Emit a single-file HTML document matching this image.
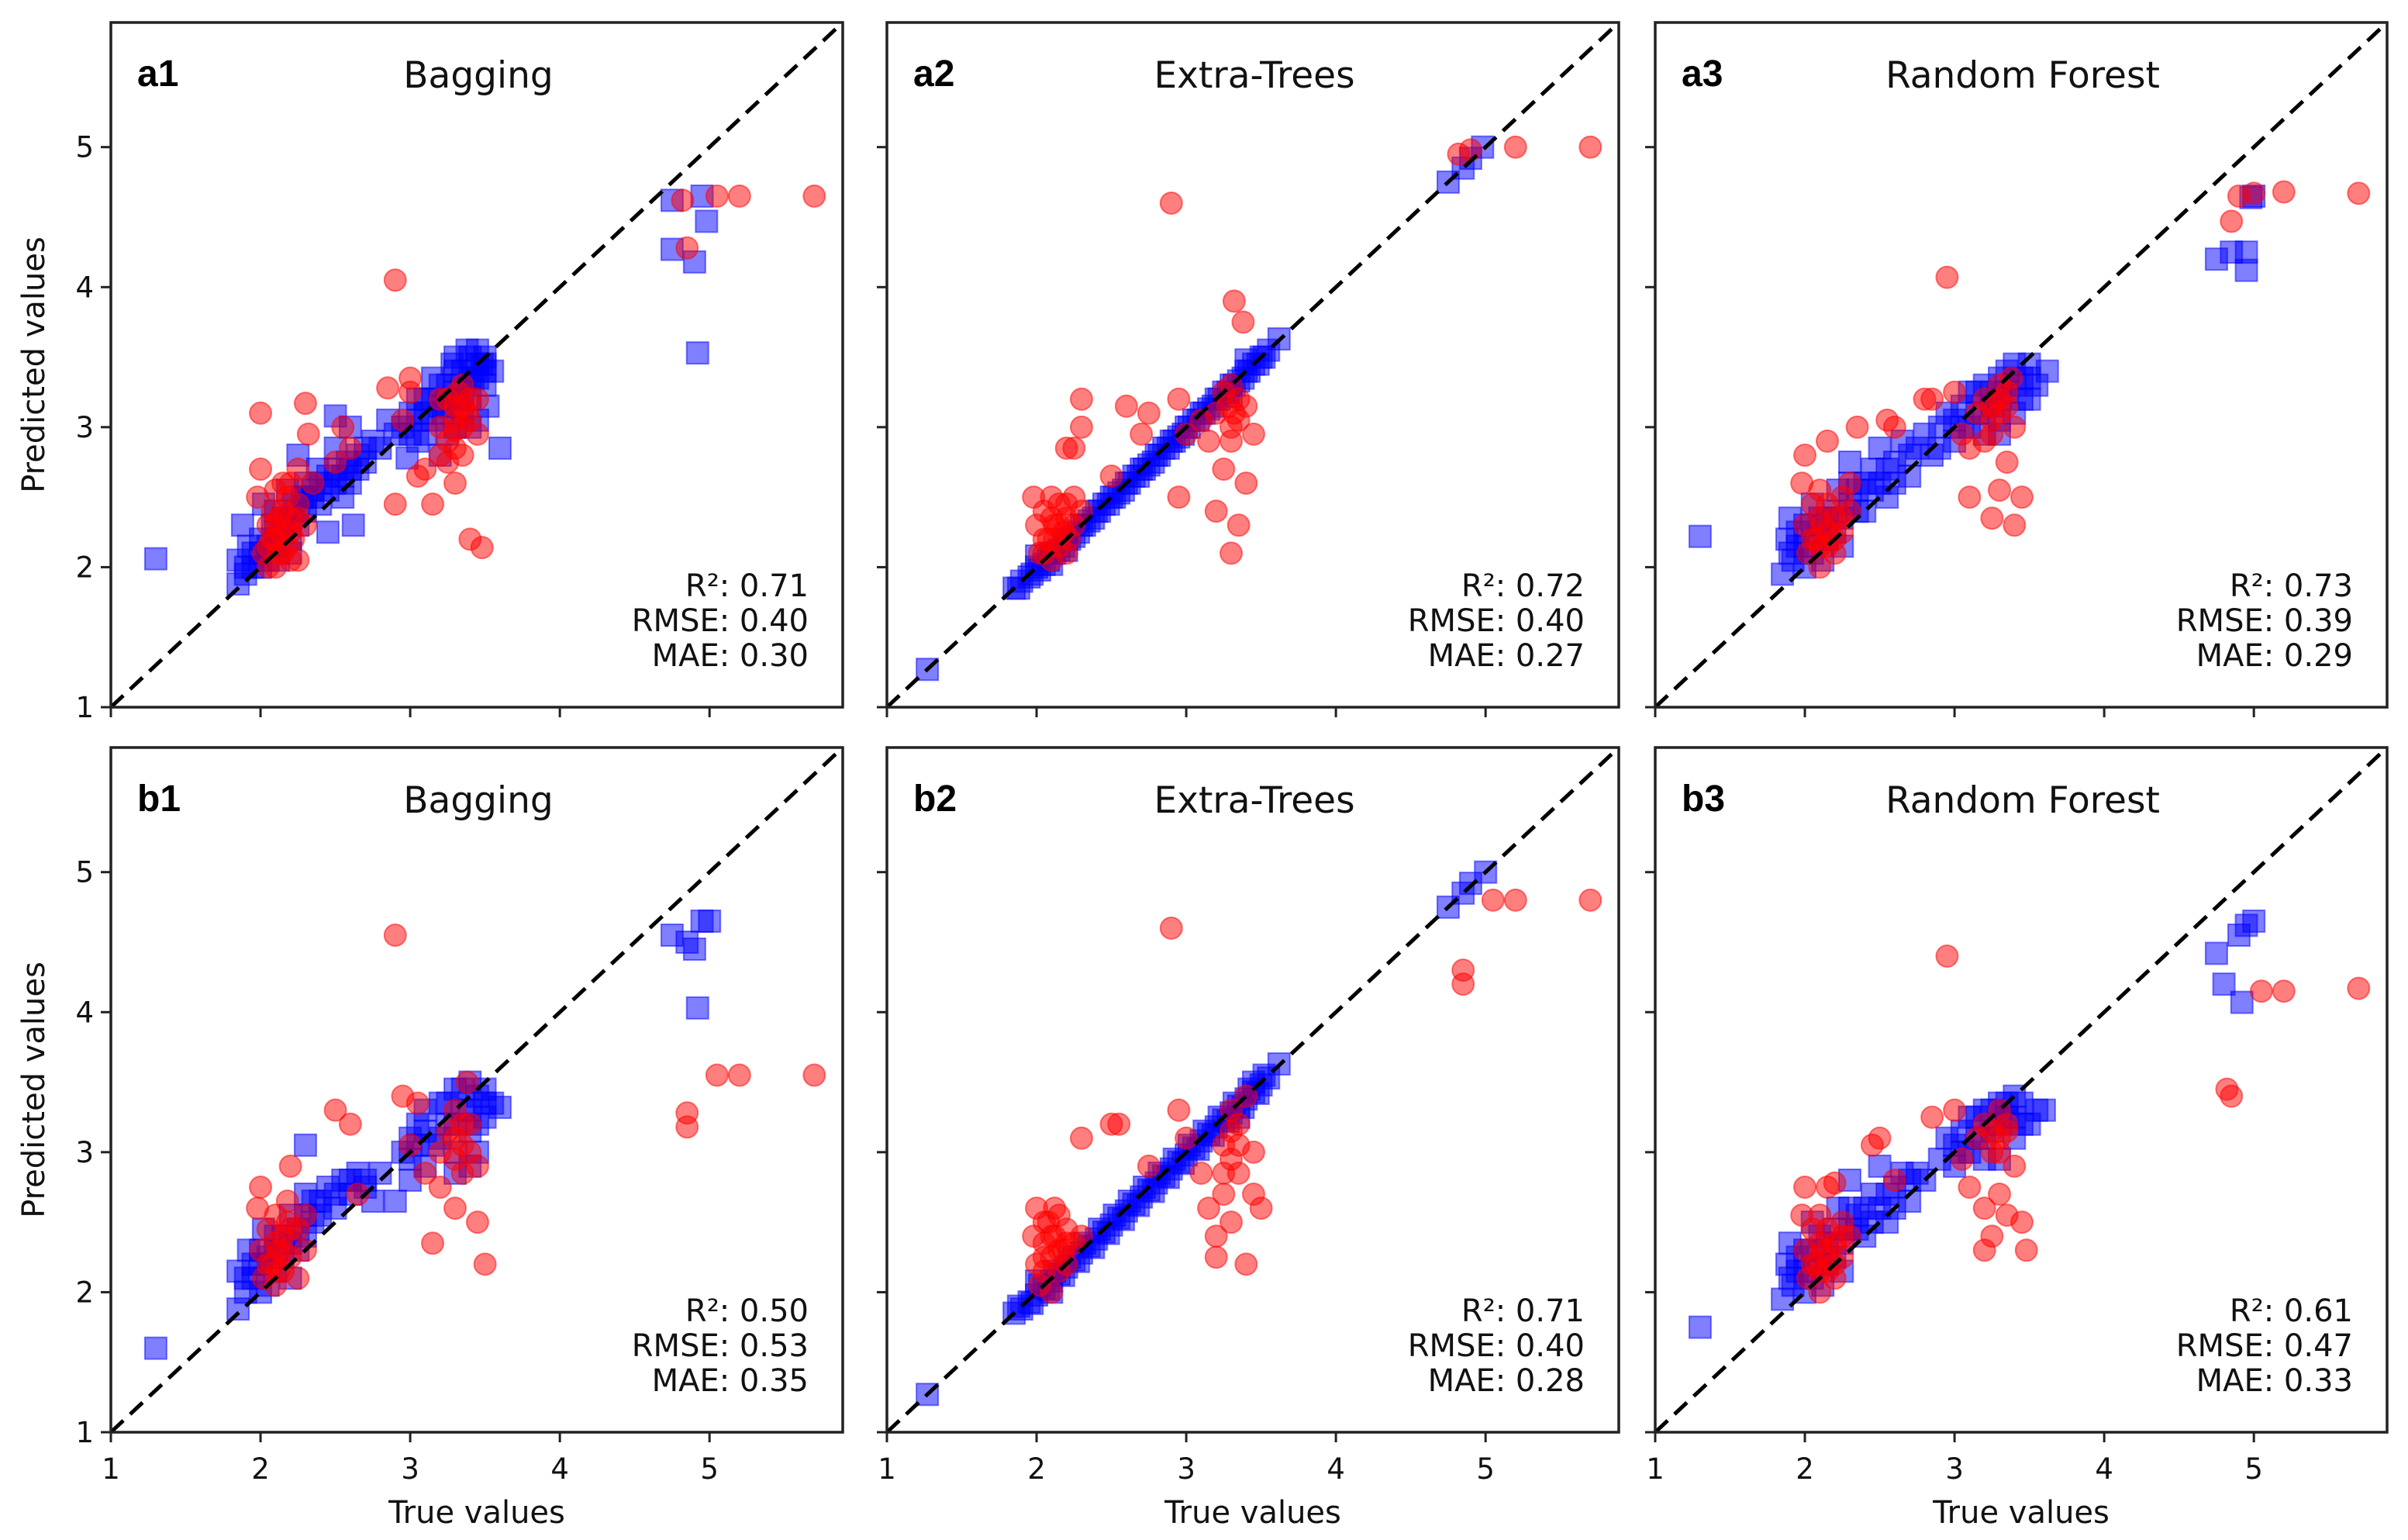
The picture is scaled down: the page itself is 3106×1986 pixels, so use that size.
<!DOCTYPE html>
<html><head><meta charset="utf-8"><style>
html,body{margin:0;padding:0;background:#fff;}
svg{display:block;}
</style></head><body>
<svg id="fig" width="3106" height="1986" viewBox="0 0 3106 1986" xmlns="http://www.w3.org/2000/svg"></svg>
<script>
const panelIds = ["a1","a2","a3","b1","b2","b3"];
const panelTitles = ["Bagging","Extra-Trees","Random Forest","Bagging","Extra-Trees","Random Forest"];
const r2Values = ["0.71","0.72","0.73","0.50","0.71","0.61"];
const rmseValues = ["0.40","0.40","0.39","0.53","0.40","0.47"];
const maeValues = ["0.30","0.27","0.29","0.35","0.28","0.33"];
const tickValues = [1,2,3,4,5];

const blueA1 = [[1.3,2.06],[1.85,1.88],[1.85,2.05],[1.88,2.3],[1.9,2.0],[1.92,2.15],[1.95,2.1],[2.0,2.0],[2.0,2.2],[2.02,2.45],[2.05,2.05],[2.08,2.3],[2.1,2.15],[2.1,2.4],[2.15,2.25],[2.18,2.55],[2.2,2.1],[2.2,2.35],[2.25,2.3],[2.25,2.8],[2.28,2.5],[2.3,2.4],[2.3,2.6],[2.35,2.5],[2.38,2.7],[2.4,2.45],[2.45,2.25],[2.45,2.65],[2.5,2.6],[2.5,2.85],[2.5,3.08],[2.55,2.5],[2.58,2.75],[2.6,2.7],[2.6,3.0],[2.62,2.3],[2.65,2.8],[2.7,2.75],[2.75,2.9],[2.8,2.85],[2.85,3.05],[2.9,2.95],[2.95,3.0],[2.98,2.78],[3.0,3.1],[3.05,2.9],[3.05,3.2],[3.1,3.2],[3.1,2.95],[3.15,3.05],[3.15,3.35],[3.2,3.3],[3.2,2.8],[3.22,3.1],[3.25,3.15],[3.28,3.45],[3.3,3.4],[3.3,3.0],[3.32,3.2],[3.35,3.25],[3.38,3.55],[3.4,3.5],[3.4,3.2],[3.42,3.35],[3.45,3.35],[3.45,3.05],[3.48,3.45],[3.5,3.45],[3.5,3.3],[3.52,3.15],[3.55,3.4],[3.6,2.85],[3.45,3.55],[4.75,4.62],[4.95,4.65],[4.75,4.27],[4.9,4.18],[4.92,3.53],[4.98,4.47],
[1.9,1.95],[1.95,2.0],[2.0,2.1],[2.05,2.15],[2.1,2.25],[2.12,2.05],[2.15,2.35],[2.2,2.2],[2.22,2.45],[2.25,2.4],[2.3,2.5],[2.35,2.55],[2.4,2.6],[2.45,2.55],[2.5,2.7],[2.55,2.65],[2.6,2.6],[2.65,2.7],[2.7,2.85],[3.0,2.95],[3.05,3.05],[3.1,3.1],[3.15,3.2],[3.2,3.15],[3.25,3.3],[3.3,3.25],[3.35,3.4],[3.4,3.35],[3.45,3.45],[3.5,3.4],[3.35,3.1],[3.4,3.0],[3.25,2.95],[3.5,3.5],[3.3,3.5]];
const redA1 = [[2.0,3.1],[2.0,2.7],[1.98,2.5],[2.02,2.1],[2.05,2.3],[2.05,2.0],[2.08,2.2],[2.1,2.2],[2.1,2.0],[2.12,2.35],[2.15,2.4],[2.15,2.1],[2.18,2.5],[2.2,2.25],[2.2,2.6],[2.2,2.05],[2.25,2.05],[2.25,2.45],[2.25,2.7],[2.3,2.3],[2.3,3.17],[2.32,2.95],[2.35,2.6],[2.5,2.75],[2.55,3.0],[2.6,2.85],[2.85,3.28],[2.9,4.05],[2.9,2.45],[2.95,3.05],[3.0,3.35],[3.0,3.25],[3.05,2.65],[3.1,2.7],[3.15,2.45],[3.2,2.8],[3.2,3.2],[3.25,2.9],[3.3,3.15],[3.3,2.6],[3.32,3.25],[3.35,3.3],[3.35,2.8],[3.38,3.1],[3.4,3.05],[3.4,2.2],[3.45,2.95],[3.48,2.14],[3.45,3.2],[3.3,2.98],[4.82,4.62],[4.85,4.28],[5.05,4.65],[5.2,4.65],[5.7,4.65],
[2.05,2.15],[2.08,2.4],[2.1,2.3],[2.12,2.1],[2.15,2.25],[2.18,2.15],[2.2,2.35],[2.22,2.2],[2.1,2.55],[2.15,2.6],[2.25,2.35],[3.2,3.0],[3.25,3.2],[3.3,3.05],[3.35,3.15],[3.25,2.75],[3.3,2.85],[3.35,3.0],[3.4,3.2]];

const blueA2 = [[1.27,1.27],[1.85,1.85],[1.9,1.9],[1.95,1.93],[2.0,2.0],[2.05,2.02],[2.1,2.1],[2.15,2.12],[2.2,2.2],[2.25,2.22],[2.3,2.3],[2.35,2.33],[2.4,2.4],[2.45,2.45],[2.5,2.5],[2.55,2.53],[2.6,2.6],[2.65,2.65],[2.7,2.7],[2.75,2.73],[2.8,2.8],[2.85,2.85],[2.9,2.9],[2.95,2.93],[3.0,3.0],[3.05,3.05],[3.1,3.1],[3.15,3.13],[3.2,3.2],[3.25,3.25],[3.3,3.3],[3.35,3.33],[3.4,3.4],[3.45,3.45],[3.5,3.5],[3.55,3.55],[3.62,3.63],[2.0,2.08],[2.1,2.02],[2.2,2.12],[3.3,3.22],[3.4,3.48],[4.75,4.75],[4.85,4.85],[4.9,4.92],[4.98,5.0],
[1.88,1.85],[1.97,1.95],[2.02,1.98],[2.08,2.05],[2.12,2.1],[2.18,2.15],[2.22,2.2],[2.28,2.25],[2.32,2.3],[2.38,2.35],[2.42,2.4],[2.48,2.45],[2.52,2.5],[2.58,2.55],[2.62,2.6],[2.68,2.65],[2.72,2.7],[2.78,2.75],[2.82,2.8],[2.88,2.85],[2.92,2.9],[2.98,2.95],[3.02,3.0],[3.08,3.05],[3.12,3.1],[3.18,3.15],[3.22,3.2],[3.28,3.25],[3.32,3.3],[3.38,3.35],[3.42,3.4],[3.48,3.45],[3.52,3.5]];
const redA2 = [[1.98,2.5],[2.0,2.3],[2.02,2.1],[2.05,2.4],[2.08,2.2],[2.1,2.05],[2.1,2.5],[2.12,2.3],[2.15,2.15],[2.15,2.45],[2.18,2.25],[2.2,2.1],[2.2,2.35],[2.22,2.2],[2.25,2.3],[2.25,2.5],[2.3,2.4],[2.2,2.85],[2.25,2.85],[2.3,3.2],[2.3,3.0],[2.5,2.65],[2.6,3.15],[2.7,2.95],[2.75,3.1],[2.9,4.6],[2.95,2.5],[2.95,3.2],[3.0,2.95],[3.1,3.05],[3.15,2.9],[3.2,3.1],[3.2,2.4],[3.25,3.25],[3.25,2.7],[3.3,3.0],[3.3,3.3],[3.3,2.1],[3.32,3.9],[3.38,3.75],[3.35,2.3],[3.4,2.6],[3.4,3.15],[3.45,2.95],[3.35,3.05],[4.82,4.95],[4.9,4.98],[5.2,5.0],[5.7,5.0],
[2.05,2.2],[2.1,2.35],[2.15,2.3],[2.2,2.45],[2.05,2.1],[2.12,2.2],[3.28,3.15],[3.32,3.1],[3.35,3.2],[3.3,2.9]];

const blueA3 = [[1.3,2.22],[1.85,1.95],[1.88,2.2],[1.9,2.35],[1.92,2.05],[1.95,2.15],[2.0,2.0],[2.0,2.3],[2.05,2.1],[2.05,2.45],[2.1,2.2],[2.12,2.05],[2.15,2.35],[2.2,2.25],[2.22,2.55],[2.25,2.15],[2.3,2.45],[2.3,2.75],[2.35,2.55],[2.4,2.4],[2.45,2.7],[2.5,2.6],[2.5,2.85],[2.55,2.5],[2.6,2.75],[2.65,2.9],[2.7,2.65],[2.75,2.85],[2.8,2.95],[2.85,2.8],[2.9,3.0],[2.95,3.1],[3.0,2.9],[3.05,3.15],[3.1,3.0],[3.1,3.25],[3.15,3.1],[3.2,3.3],[3.25,3.15],[3.3,3.35],[3.3,2.95],[3.35,3.25],[3.4,3.45],[3.4,3.1],[3.45,3.35],[3.5,3.45],[3.5,3.2],[3.55,3.3],[3.62,3.4],[4.75,4.2],[4.85,4.25],[4.95,4.12],[4.95,4.25],[5.0,4.65],[4.98,4.64],
[1.9,2.1],[1.95,2.25],[2.0,2.15],[2.05,2.3],[2.1,2.35],[2.15,2.2],[2.2,2.4],[2.25,2.35],[2.3,2.6],[2.35,2.4],[2.4,2.6],[2.45,2.55],[2.55,2.7],[2.6,2.6],[2.7,2.8],[2.9,2.85],[3.0,3.05],[3.05,3.0],[3.15,3.25],[3.2,3.1],[3.25,3.25],[3.3,3.2],[3.35,3.4],[3.4,3.3],[3.45,3.2],[3.5,3.35],[3.2,2.95],[3.3,3.05]];
const redA3 = [[1.98,2.6],[2.0,2.3],[2.0,2.8],[2.02,2.1],[2.05,2.45],[2.08,2.2],[2.1,2.0],[2.1,2.55],[2.12,2.3],[2.15,2.15],[2.15,2.45],[2.2,2.35],[2.2,2.1],[2.25,2.5],[2.25,2.25],[2.3,2.4],[2.3,2.6],[2.15,2.9],[2.35,3.0],[2.55,3.05],[2.6,3.0],[2.8,3.2],[2.85,3.2],[2.95,4.07],[3.0,3.25],[3.05,2.95],[3.1,2.85],[3.1,2.5],[3.15,3.1],[3.2,3.2],[3.2,2.9],[3.25,3.05],[3.25,2.35],[3.3,3.3],[3.3,2.55],[3.35,3.15],[3.35,2.75],[3.38,3.35],[3.4,2.3],[3.45,2.5],[3.4,3.0],[4.85,4.47],[4.9,4.65],[5.0,4.67],[5.2,4.68],[5.7,4.67],
[2.05,2.2],[2.1,2.35],[2.15,2.25],[2.2,2.2],[2.1,2.15],[2.25,2.35],[3.25,3.15],[3.3,3.1],[3.35,3.25],[3.3,3.2],[3.25,2.95]];

const blueB1 = [[1.3,1.6],[1.85,1.88],[1.85,2.15],[1.9,2.0],[1.92,2.3],[1.95,2.1],[2.0,2.0],[2.0,2.2],[2.02,2.45],[2.05,2.05],[2.1,2.15],[2.1,2.4],[2.15,2.25],[2.2,2.1],[2.2,2.55],[2.25,2.3],[2.3,2.4],[2.3,2.7],[2.35,2.5],[2.3,3.05],[2.4,2.65],[2.45,2.75],[2.5,2.6],[2.55,2.8],[2.6,2.7],[2.65,2.85],[2.7,2.75],[2.75,2.65],[2.8,2.85],[2.9,2.65],[2.95,3.0],[3.0,2.8],[3.0,3.1],[3.05,3.2],[3.1,2.9],[3.1,3.3],[3.15,3.05],[3.2,3.35],[3.25,3.2],[3.3,3.45],[3.3,3.0],[3.35,3.3],[3.4,3.5],[3.4,3.15],[3.45,3.4],[3.45,3.0],[3.5,3.45],[3.5,3.25],[3.55,3.35],[3.6,3.32],[4.75,4.55],[4.85,4.5],[4.9,4.45],[4.95,4.65],[5.0,4.65],[4.92,4.03],
[1.9,2.1],[1.95,2.2],[2.0,2.3],[2.05,2.25],[2.1,2.3],[2.15,2.4],[2.2,2.35],[2.25,2.45],[2.3,2.55],[2.35,2.65],[2.4,2.55],[2.5,2.7],[2.6,2.8],[2.7,2.8],[3.0,2.95],[3.05,3.05],[3.1,3.15],[3.2,3.1],[3.25,3.35],[3.3,3.2],[3.35,3.45],[3.4,3.3],[3.45,3.2],[3.5,3.35],[3.3,2.85],[3.4,2.9]];
const redB1 = [[1.98,2.6],[2.0,2.3],[2.0,2.75],[2.02,2.1],[2.05,2.45],[2.08,2.2],[2.1,2.05],[2.1,2.55],[2.12,2.3],[2.15,2.15],[2.15,2.4],[2.18,2.65],[2.2,2.25],[2.2,2.9],[2.25,2.1],[2.25,2.45],[2.3,2.3],[2.3,2.55],[2.5,3.3],[2.6,3.2],[2.65,2.7],[2.9,4.55],[2.95,3.4],[3.0,3.05],[3.05,3.35],[3.1,2.85],[3.15,2.35],[3.2,3.0],[3.2,2.75],[3.25,3.15],[3.3,3.3],[3.3,2.6],[3.35,3.05],[3.35,2.85],[3.38,3.5],[3.4,3.2],[3.45,2.5],[3.5,2.2],[3.45,2.9],[4.85,3.28],[4.85,3.18],[5.05,3.55],[5.2,3.55],[5.7,3.55],
[2.05,2.2],[2.1,2.35],[2.15,2.3],[2.2,2.45],[2.12,2.15],[2.18,2.5],[3.3,3.1],[3.35,3.2],[3.4,3.0],[3.3,2.95]];

const blueB2 = [[1.27,1.27],[1.85,1.85],[1.9,1.88],[1.95,1.93],[2.0,1.98],[2.05,2.03],[2.1,2.08],[2.15,2.13],[2.2,2.18],[2.25,2.23],[2.3,2.28],[2.35,2.33],[2.4,2.38],[2.45,2.43],[2.5,2.48],[2.55,2.53],[2.6,2.58],[2.65,2.63],[2.7,2.68],[2.75,2.73],[2.8,2.78],[2.85,2.83],[2.9,2.88],[2.95,2.93],[3.0,2.98],[3.05,3.03],[3.1,3.08],[3.15,3.13],[3.2,3.18],[3.25,3.23],[3.3,3.28],[3.35,3.33],[3.4,3.38],[3.45,3.43],[3.5,3.48],[3.55,3.53],[3.62,3.63],[2.0,2.08],[2.1,2.0],[3.35,3.25],[3.45,3.5],[4.75,4.75],[4.85,4.85],[4.9,4.92],[5.0,5.0],
[1.88,1.9],[1.97,1.92],[2.02,2.05],[2.08,2.02],[2.12,2.15],[2.18,2.12],[2.22,2.25],[2.28,2.22],[2.32,2.35],[2.38,2.32],[2.42,2.45],[2.48,2.42],[2.52,2.55],[2.58,2.52],[2.62,2.65],[2.68,2.62],[2.72,2.75],[2.78,2.72],[2.82,2.85],[2.88,2.82],[2.92,2.95],[2.98,2.92],[3.02,3.05],[3.08,3.02],[3.12,3.15],[3.18,3.12],[3.22,3.25],[3.28,3.22],[3.32,3.35],[3.38,3.32],[3.42,3.45],[3.48,3.42],[3.52,3.55]];
const redB2 = [[1.98,2.4],[2.0,2.2],[2.0,2.6],[2.02,2.05],[2.05,2.35],[2.05,2.15],[2.08,2.5],[2.1,2.25],[2.1,2.0],[2.12,2.4],[2.15,2.15],[2.15,2.55],[2.18,2.3],[2.2,2.2],[2.2,2.45],[2.25,2.35],[2.3,2.4],[2.3,3.1],[2.5,3.2],[2.55,3.2],[2.75,2.9],[2.9,4.6],[2.95,3.3],[3.0,3.1],[3.1,2.85],[3.15,2.6],[3.2,2.4],[3.2,2.25],[3.25,3.05],[3.25,2.7],[3.3,3.3],[3.3,2.5],[3.35,3.2],[3.35,2.85],[3.4,3.4],[3.4,2.2],[3.45,2.7],[3.5,2.6],[3.45,3.0],[4.85,4.3],[4.85,4.2],[5.05,4.8],[5.2,4.8],[5.7,4.8],
[2.05,2.25],[2.1,2.4],[2.15,2.3],[2.2,2.35],[2.05,2.5],[2.12,2.6],[3.3,3.15],[3.35,3.05],[3.3,2.95],[3.25,2.85]];

const blueB3 = [[1.3,1.75],[1.85,1.95],[1.88,2.2],[1.9,2.35],[1.92,2.05],[1.95,2.15],[2.0,2.0],[2.0,2.3],[2.05,2.1],[2.05,2.5],[2.1,2.2],[2.12,2.05],[2.15,2.35],[2.2,2.25],[2.22,2.6],[2.25,2.15],[2.3,2.45],[2.3,2.8],[2.35,2.55],[2.4,2.4],[2.45,2.7],[2.5,2.6],[2.5,2.9],[2.55,2.5],[2.6,2.75],[2.65,2.85],[2.7,2.65],[2.75,2.85],[2.8,2.8],[2.9,2.95],[2.95,3.1],[3.0,2.9],[3.05,3.15],[3.1,3.0],[3.1,3.25],[3.15,3.1],[3.2,3.3],[3.25,3.15],[3.3,3.35],[3.3,2.95],[3.35,3.25],[3.4,3.4],[3.4,3.1],[3.45,3.35],[3.5,3.2],[3.55,3.3],[3.6,3.3],[4.75,4.42],[4.8,4.2],[4.9,4.55],[4.95,4.62],[5.0,4.65],[4.92,4.07],
[1.9,2.1],[1.95,2.25],[2.0,2.15],[2.05,2.3],[2.1,2.4],[2.15,2.2],[2.2,2.45],[2.25,2.35],[2.3,2.6],[2.35,2.45],[2.4,2.6],[2.45,2.5],[2.55,2.7],[2.6,2.6],[2.7,2.8],[3.0,3.05],[3.05,3.0],[3.15,3.25],[3.2,3.1],[3.25,3.3],[3.3,3.2],[3.35,3.35],[3.4,3.25],[3.45,3.2],[3.2,2.95]];
const redB3 = [[1.98,2.55],[2.0,2.3],[2.0,2.75],[2.02,2.1],[2.05,2.45],[2.08,2.2],[2.1,2.0],[2.1,2.55],[2.12,2.3],[2.15,2.15],[2.15,2.45],[2.2,2.35],[2.2,2.1],[2.25,2.5],[2.25,2.25],[2.3,2.4],[2.15,2.75],[2.2,2.78],[2.45,3.05],[2.5,3.1],[2.6,2.8],[2.95,4.4],[2.85,3.25],[3.0,3.3],[3.05,2.95],[3.1,2.75],[3.15,3.1],[3.2,3.2],[3.2,2.6],[3.25,3.0],[3.25,2.4],[3.3,3.3],[3.3,2.7],[3.35,3.15],[3.35,2.55],[3.4,2.9],[3.45,2.5],[3.48,2.3],[3.2,2.3],[4.82,3.45],[4.85,3.4],[5.05,4.15],[5.2,4.15],[5.7,4.17],
[2.05,2.2],[2.1,2.35],[2.15,2.3],[2.2,2.2],[2.1,2.15],[2.25,2.4],[3.25,3.15],[3.3,3.1],[3.35,3.2],[3.3,3.0]];

const blueSets = [blueA1,blueA2,blueA3,blueB1,blueB2,blueB3];
const redSets = [redA1,redA2,redA3,redB1,redB2,redB3];

const NS = "http://www.w3.org/2000/svg";
const svg = document.getElementById("fig");
const colLeft = [143, 1144, 2135];
const colW = 944;
const rowTop = [29, 964];
const rowH = 883;
const vmin = 1, vmax = 5.89;
const FONT = "DejaVu Sans, Liberation Sans, sans-serif";

function mk(tag, attrs, parent){
  const e = document.createElementNS(NS, tag);
  for (const k in attrs) e.setAttribute(k, attrs[k]);
  (parent||svg).appendChild(e);
  return e;
}

panelIds.forEach((pid, i) => {
  const c = i % 3, r = Math.floor(i / 3);
  const L = colLeft[c], T = rowTop[r], W = colW, H = rowH;
  const sx = v => L + (v - vmin) / (vmax - vmin) * W;
  const sy = v => T + H - (v - vmin) / (vmax - vmin) * H;
  const g = mk("g", {});
  
  

  const clipId = "clip" + pid;
  const cp = mk("clipPath", {id: clipId}, g);
  mk("rect", {x: L, y: T, width: W, height: H}, cp);

  const pts = mk("g", {"clip-path": "url(#" + clipId + ")"}, g);
  
  
  blueSets[i].forEach(p => {
    const s = mk("rect", {x: sx(p[0]) - 14, y: sy(p[1]) - 14, width: 28, height: 28, fill: "rgba(0,0,255,0.5)", stroke: "rgba(0,0,255,0.5)", "stroke-width": 2}, pts);
    
    
  });
  redSets[i].forEach(p => {
    const ci = mk("circle", {cx: sx(p[0]), cy: sy(p[1]), r: 14, fill: "rgba(255,0,0,0.5)", stroke: "rgba(255,0,0,0.5)", "stroke-width": 2}, pts);
    
    
  });
  const ln = mk("line", {x1: sx(vmin), y1: sy(vmin), x2: sx(vmax), y2: sy(vmax), stroke: "#000", "stroke-width": 5, "stroke-dasharray": "22,12"}, pts);
  
  

  const fr = mk("rect", {x: L, y: T, width: W, height: H, fill: "none", stroke: "#222", "stroke-width": 3.5}, g);
  
  

  tickValues.forEach(t => {
    const tx = mk("line", {x1: sx(t), y1: T + H, x2: sx(t), y2: T + H + 13, stroke: "#222", "stroke-width": 3}, g);
    
    
    const ty = mk("line", {x1: L - 13, y1: sy(t), x2: L, y2: sy(t), stroke: "#222", "stroke-width": 3}, g);
    
    
    if (r === 1) {
      const tl = mk("text", {x: sx(t), y: T + H + 60, "text-anchor": "middle", "font-size": 37, "font-family": FONT, fill: "#111"}, g);
      tl.textContent = t;
      
      
    }
    if (c === 0) {
      const tl = mk("text", {x: L - 22, y: sy(t) + 13, "text-anchor": "end", "font-size": 37, "font-family": FONT, fill: "#111"}, g);
      tl.textContent = t;
      
      
    }
  });

  const lab = mk("text", {x: L + 34, y: T + 82, "font-size": 48, "font-weight": "bold", "font-family": "Liberation Sans, sans-serif", fill: "#000"}, g);
  lab.textContent = pid;
  
  

  const ti = mk("text", {x: L + W / 2 + 2, y: T + 84, "text-anchor": "middle", "font-size": 47, "font-family": FONT, fill: "#111"}, g);
  ti.textContent = panelTitles[i];
  
  

  const stats = ["R²: " + r2Values[i], "RMSE: " + rmseValues[i], "MAE: " + maeValues[i]];
  stats.forEach((s, k) => {
    const st = mk("text", {x: L + W - 44, y: T + H - 143 + k * 45, "text-anchor": "end", "font-size": 40, "font-family": FONT, fill: "#111"}, g);
    st.textContent = s;
    
    
  });

  if (r === 1) {
    const xl = mk("text", {x: L + W / 2, y: T + H + 117, "text-anchor": "middle", "font-size": 40, "font-family": FONT, fill: "#111"}, g);
    xl.textContent = "True values";
    
    
  }
  if (c === 0) {
    const cy = T + H / 2;
    const yl = mk("text", {x: 57, y: cy, transform: "rotate(-90 57 " + cy + ")", "text-anchor": "middle", "font-size": 40, "font-family": FONT, fill: "#111"}, g);
    yl.textContent = "Predicted values";
    
    
  }
});
</script>
</body></html>
